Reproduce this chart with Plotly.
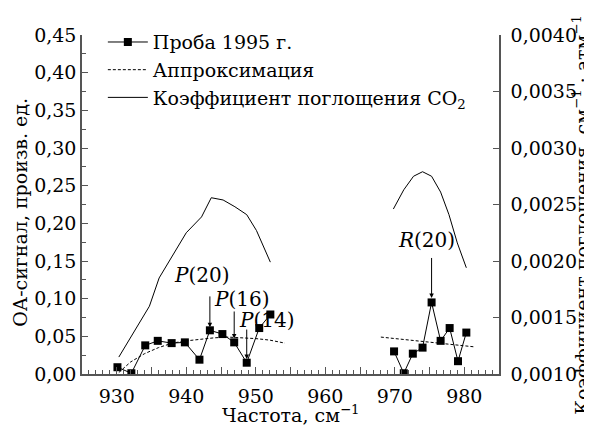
import plotly.graph_objects as go

# Sample 1995 (left axis)
sample_x1 = [930.1, 932.1, 934.1, 935.9, 937.9, 939.8, 941.9, 943.4, 945.2, 946.9, 948.7, 950.5, 952.1]
sample_y1 = [0.009, 0.001, 0.038, 0.044, 0.041, 0.042, 0.019, 0.058, 0.053, 0.042, 0.015, 0.061, 0.079]
sample_x2 = [969.9, 971.3, 972.6, 974.0, 975.3, 976.6, 977.9, 979.1, 980.3]
sample_y2 = [0.030, 0.001, 0.027, 0.035, 0.095, 0.044, 0.061, 0.017, 0.055]

# Approximation (dashed)
approx_x1 = [930.3, 932, 934, 936, 938, 940, 942, 944, 946, 948, 950, 952, 954.2]
approx_y1 = [0.002, 0.016, 0.027, 0.035, 0.041, 0.044, 0.046, 0.048, 0.049, 0.048, 0.047, 0.045, 0.041]
approx_x2 = [968.0, 981.5]
approx_y2 = [0.049, 0.036]

# CO2 absorption coefficient (right axis)
co2_x1 = [930.3, 932.7, 934.7, 936.1, 938.0, 940.0, 942.2, 943.6, 945.3, 947.0, 948.7, 950.1, 952.1]
co2_y1 = [0.00115, 0.00139, 0.00160, 0.00185, 0.00204, 0.00225, 0.00239, 0.00256, 0.00254, 0.00248, 0.00241, 0.00227, 0.00199]
co2_x2 = [969.8, 971.3, 972.7, 974.0, 975.3, 976.6, 977.8, 979.0, 980.3]
co2_y2 = [0.00246, 0.00263, 0.00275, 0.00279, 0.00275, 0.00261, 0.00241, 0.00216, 0.00194]

# Line labels
labels = ["<i>P</i>(20)", "<i>P</i>(16)", "<i>P</i>(14)", "<i>R</i>(20)"]
label_x = [943.4, 946.9, 948.7, 975.3]
label_tip = [0.062, 0.047, 0.020, 0.101]
label_tail = [0.105, 0.085, 0.061, 0.156]
text_x = [942.2, 948.0, 951.6, 974.6]
text_y = [0.131, 0.099, 0.072, 0.178]

x_ticks = [925, 930, 935, 940, 945, 950, 955, 960, 965, 970, 975, 980, 985]
x_ticktext = ["", "930", "", "940", "", "950", "", "960", "", "970", "", "980", ""]

x_title = "Частота, см<sup>−1</sup>"
y_title = "ОА-сигнал, произв. ед."
y2_title = "Коэффициент поглощения, см<sup>−1</sup> · атм<sup>−1</sup>"

FONT = "DejaVu Serif"
AX = "#555555"
FS = 19

fig = go.Figure()
fig.add_trace(go.Scatter(x=sample_x1, y=sample_y1, mode="lines+markers", name="Проба 1995 г.",
                         line=dict(color="black", width=1), legendgroup="s",
                         marker=dict(symbol="square", size=8, color="black")))
fig.add_trace(go.Scatter(x=sample_x2, y=sample_y2, mode="lines+markers", showlegend=False,
                         line=dict(color="black", width=1), legendgroup="s",
                         marker=dict(symbol="square", size=8, color="black")))
fig.add_trace(go.Scatter(x=approx_x1, y=approx_y1, mode="lines", name="Аппроксимация",
                         line=dict(color="black", width=1, dash="3px,2px"), legendgroup="a"))
fig.add_trace(go.Scatter(x=approx_x2, y=approx_y2, mode="lines", showlegend=False,
                         line=dict(color="black", width=1, dash="3px,2px"), legendgroup="a"))
fig.add_trace(go.Scatter(x=co2_x1, y=co2_y1, mode="lines", name="Коэффициент поглощения CO<sub>2</sub>",
                         line=dict(color="black", width=1), yaxis="y2", legendgroup="c"))
fig.add_trace(go.Scatter(x=co2_x2, y=co2_y2, mode="lines", showlegend=False,
                         line=dict(color="black", width=1), yaxis="y2", legendgroup="c"))

for t, ax_, tip, tail, tx, ty in zip(labels, label_x, label_tip, label_tail, text_x, text_y):
    fig.add_annotation(x=ax_, y=tip, ax=ax_, ay=tail, xref="x", yref="y", axref="x", ayref="y",
                       text="", showarrow=True, arrowhead=2, arrowsize=0.9, arrowwidth=1, arrowcolor="black")
    fig.add_annotation(x=tx, y=ty, xref="x", yref="y", text=t, showarrow=False,
                       font=dict(family=FONT, size=20, color="black"))

# axis titles
fig.add_annotation(x=0.5, y=-0.117, xref="paper", yref="paper", text=x_title, showarrow=False,
                   xanchor="center", yanchor="middle", font=dict(family=FONT, size=FS, color="black"))
fig.add_annotation(x=-0.149, y=0.478, xref="paper", yref="paper", text=y_title, showarrow=False,
                   textangle=-90, xanchor="center", yanchor="middle", font=dict(family=FONT, size=FS, color="black"))
fig.add_annotation(x=1.197, y=0.47, xref="paper", yref="paper", text=y2_title, showarrow=False,
                   textangle=-90, xanchor="center", yanchor="middle", font=dict(family=FONT, size=FS, color="black"))

# page body has an 8px margin: figure is 584x417, offset by 8px
fig.update_layout(
    width=584, height=417,
    margin=dict(l=74, r=93, t=27, b=51),
    paper_bgcolor="white", plot_bgcolor="white",
    separators=", ",
    font=dict(family=FONT, size=FS, color="black"),
    showlegend=True,
    legend=dict(x=0.05, y=1.035, xanchor="left", yanchor="top", bgcolor="rgba(0,0,0,0)",
                font=dict(family=FONT, size=19, color="black"), tracegroupgap=0, itemwidth=40),
    xaxis=dict(range=[925, 985], showgrid=False, zeroline=False, showline=True, linecolor=AX, linewidth=1.5,
               ticks="inside", ticklen=7, tickcolor=AX, tickvals=x_ticks, ticktext=x_ticktext,
               ticklabelstandoff=4,
               minor=dict(tickmode="linear", tick0=925, dtick=1, ticks="inside", ticklen=4, tickcolor=AX)),
    yaxis=dict(range=[0, 0.45], showgrid=False, zeroline=False, showline=True, linecolor=AX, linewidth=1.5,
               ticks="inside", ticklen=6, tickcolor=AX, dtick=0.05, tickformat=".2f",
               minor=dict(dtick=0.025, ticks="inside", ticklen=4, tickcolor=AX)),
    yaxis2=dict(range=[0.001, 0.004], overlaying="y", side="right", showgrid=False, zeroline=False,
                showline=True, linecolor=AX, linewidth=1.5, ticks="inside", ticklen=6, tickcolor=AX,
                dtick=0.0005, tickformat=".4f", ticklabelstandoff=6),
)

fig.write_html("out.html")
